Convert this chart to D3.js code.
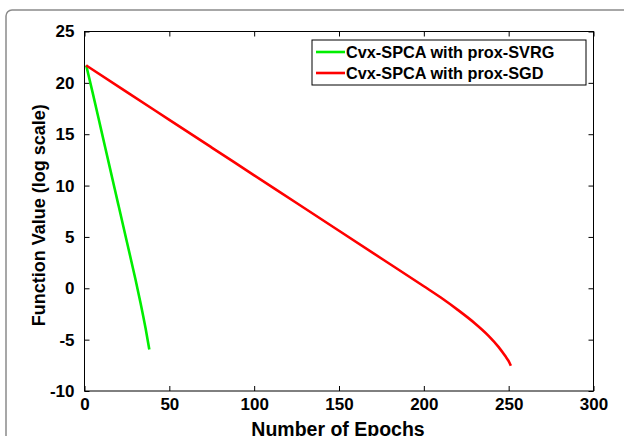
<!DOCTYPE html>
<html><head><meta charset="utf-8">
<script src="https://cdn.jsdelivr.net/npm/d3@7/dist/d3.min.js"></script>
<style>body{margin:0;background:#fff}svg{display:block}text{font-family:"Liberation Sans",Arial,sans-serif;font-weight:bold}</style>
</head><body>
<svg id="c" width="624" height="436"></svg>
<script>
const xTicks = [0, 50, 100, 150, 200, 250, 300];
const yTicks = [-10, -5, 0, 5, 10, 15, 20, 25];
const seriesNames = ["Cvx-SPCA with prox-SVRG", "Cvx-SPCA with prox-SGD"];
const seriesColors = ["#00ee00", "#ff0000"];
const svrgEpochs = [1, 5, 10, 15, 20, 25, 30, 33, 36, 38.2];
const svrgValues = [21.7, 18.9, 15.3, 11.7, 8.1, 4.5, 0.9, -1.4, -3.9, -5.95];
const sgdEpochs = [1, 25, 50, 75, 100, 125, 150, 175, 200, 210, 220, 230, 238, 244, 248, 250, 251.3];
const sgdValues = [21.7, 19.1, 16.4, 13.7, 11.0, 8.3, 5.6, 2.9, 0.2, -0.9, -2.1, -3.4, -4.6, -5.7, -6.6, -7.1, -7.55];

const svg = d3.select("#c");
// outer frame
svg.append("rect").attr("x", 6).attr("y", 10).attr("width", 700).attr("height", 500)
  .attr("rx", 6).attr("fill", "none").attr("stroke", "#8a8a8a").attr("stroke-width", 1.5);

const L = 84.5, R = 593.5, T = 31.5, B = 391;
const x = d3.scaleLinear().domain([0, 300]).range([L, R]);
const y = d3.scaleLinear().domain([-10, 25]).range([B, T]);
const fmt = d => String(d); // plain hyphen minus, as in the reference

const g = svg.append("g");
function styleAxis(sel){
  sel.select(".domain").remove();
  sel.selectAll("line").attr("stroke", "#000");
  sel.selectAll("text").attr("fill", "#000").style("font-size", "17px").style("font-weight", "bold");
}
g.append("g").attr("transform", `translate(0,${B})`)
  .call(d3.axisBottom(x).tickValues(xTicks).tickSizeInner(-5).tickSizeOuter(0).tickPadding(7).tickFormat(fmt))
  .call(styleAxis);
g.append("g").attr("transform", `translate(0,${T})`)
  .call(d3.axisTop(x).tickValues(xTicks).tickSizeInner(-5).tickSizeOuter(0).tickFormat(""))
  .call(styleAxis);
g.append("g").attr("transform", `translate(${L},0)`)
  .call(d3.axisLeft(y).tickValues(yTicks).tickSizeInner(-5).tickSizeOuter(0).tickPadding(10).tickFormat(fmt))
  .call(styleAxis);
g.append("g").attr("transform", `translate(${R},0)`)
  .call(d3.axisRight(y).tickValues(yTicks).tickSizeInner(-5).tickSizeOuter(0).tickFormat(""))
  .call(styleAxis);
g.append("rect").attr("x", L).attr("y", T).attr("width", R - L).attr("height", B - T)
  .attr("fill", "none").attr("stroke", "#000").attr("stroke-width", 1);

const line = d3.line().x(d => x(d[0])).y(d => y(d[1])).curve(d3.curveMonotoneX);
const series = [
  d3.zip(svrgEpochs, svrgValues),
  d3.zip(sgdEpochs, sgdValues)
];
series.forEach((s, i) => {
  svg.append("path").datum(s).attr("d", line).attr("fill", "none")
    .attr("stroke", seriesColors[i]).attr("stroke-width", 2.6);
});

// legend
const lg = svg.append("g");
lg.append("rect").attr("x", 312).attr("y", 40).attr("width", 274).attr("height", 45)
  .attr("fill", "#fff").attr("stroke", "#000").attr("stroke-width", 1);
seriesNames.forEach((n, i) => {
  const yy = 52 + i * 21;
  lg.append("line").attr("x1", 316).attr("x2", 345).attr("y1", yy).attr("y2", yy)
    .attr("stroke", seriesColors[i]).attr("stroke-width", 2.6);
  lg.append("text").attr("x", 346).attr("y", yy + 6).text(n)
    .style("font-size", "16.3px").attr("fill", "#000");
});

svg.append("text").attr("x", (L + R) / 2 - 1).attr("y", 436).attr("text-anchor", "middle")
  .style("font-size", "19.5px").text("Number of Epochs");
svg.append("text").attr("transform", `translate(45,${(T + B) / 2 + 4}) rotate(-90)`)
  .attr("text-anchor", "middle").style("font-size", "18px").text("Function Value (log scale)");
</script>
</body></html>
